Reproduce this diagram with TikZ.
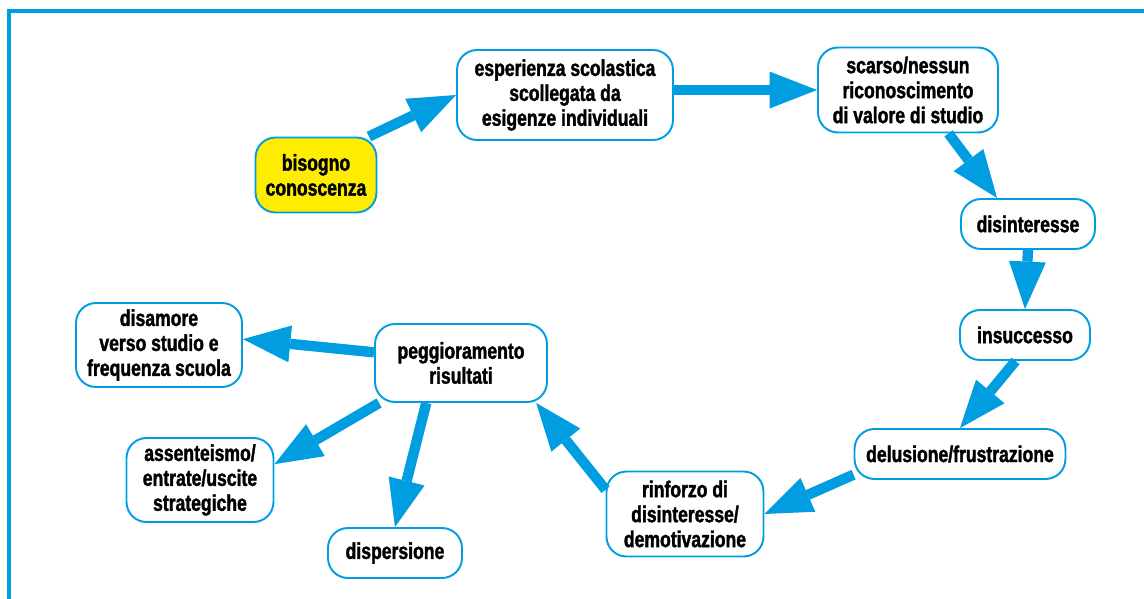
\documentclass[tikz,border=0pt]{standalone}
\usepackage{fontspec}
\setmainfont{Liberation Sans}[FakeStretch=0.77,BoldFeatures={FakeBold=1.6}]
\usetikzlibrary{arrows.meta}
\definecolor{flowblue}{RGB}{0,158,224}
\definecolor{flowyellow}{RGB}{255,237,0}

\begin{document}
\begin{tikzpicture}[x=0.02cm,y=-0.02cm,
    box/.style={draw=flowblue,line width=1.1pt,rounded corners=0.4cm,fill=white,
                align=center,inner sep=2pt,font=\fontsize{13}{14.2}\selectfont\bfseries},
    flow/.style={color=flowblue,line width=5.9pt,
                -{Triangle[length=0.95cm,width=0.74cm,line width=0pt]}}]
                \useasboundingbox (0,0) rectangle (1144,599);
                % open frame: left and top sides only
                \draw[flowblue,line width=2.3pt] (9,610) -- (9,11) -- (1150,11);
                \node[box,fill=flowyellow,minimum width=2.42cm,minimum height=1.5cm](bisogno)at(316, 175){bisogno\\conoscenza};
                \node[box,minimum width=4.32cm,minimum height=1.8cm](esperienza)at(565, 95){esperienza scolastica\\scollegata da\\esigenze individuali};
                \node[box,minimum width=3.6cm,minimum height=1.7cm](scarso)at(908, 90){scarso/nessun\\riconoscimento\\di valore di studio};
                \node[box,minimum width=2.68cm,minimum height=1cm](disinteresse)at(1028, 224){disinteresse};
                \node[box,minimum width=2.6cm,minimum height=1cm](insuccesso)at(1025, 335){insuccesso};
                \node[box,minimum width=4.22cm,minimum height=1cm](delusione)at(960, 454){delusione/frustrazione};
                \node[box,minimum width=3.14cm,minimum height=1.7cm](rinforzo)at(685, 514){rinforzo di\\disinteresse/\\demotivazione};
                \node[box,minimum width=3.44cm,minimum height=1.56cm](peggioramento)at(461, 363){peggioramento\\risultati};
                \node[box,minimum width=3.32cm,minimum height=1.68cm](disamore)at(159, 345){disamore\\verso studio e\\frequenza scuola};
                \node[box,minimum width=2.94cm,minimum height=1.68cm](assenteismo)at(200, 480){assenteismo/\\entrate/uscite\\strategiche};
                \node[box,minimum width=2.68cm,minimum height=1cm](dispersione)at(395, 553){dispersione};
                \path[flow](bisogno.36) edge (esperienza.west)
                (esperienza.east |- scarso.west) edge (scarso.west)
                (scarso.-47) edge (disinteresse.140)
                (disinteresse.south) edge (insuccesso.north)
                (insuccesso.-110) edge (delusione.north)
                (delusione.191) edge (rinforzo.east)
                (rinforzo.163) edge (peggioramento.-28)
                (peggioramento.173) edge (disamore.4)
                (peggioramento.206) edge (assenteismo.12)
                (peggioramento.229) edge (dispersione.north);
            \end{tikzpicture}
\end{document}
